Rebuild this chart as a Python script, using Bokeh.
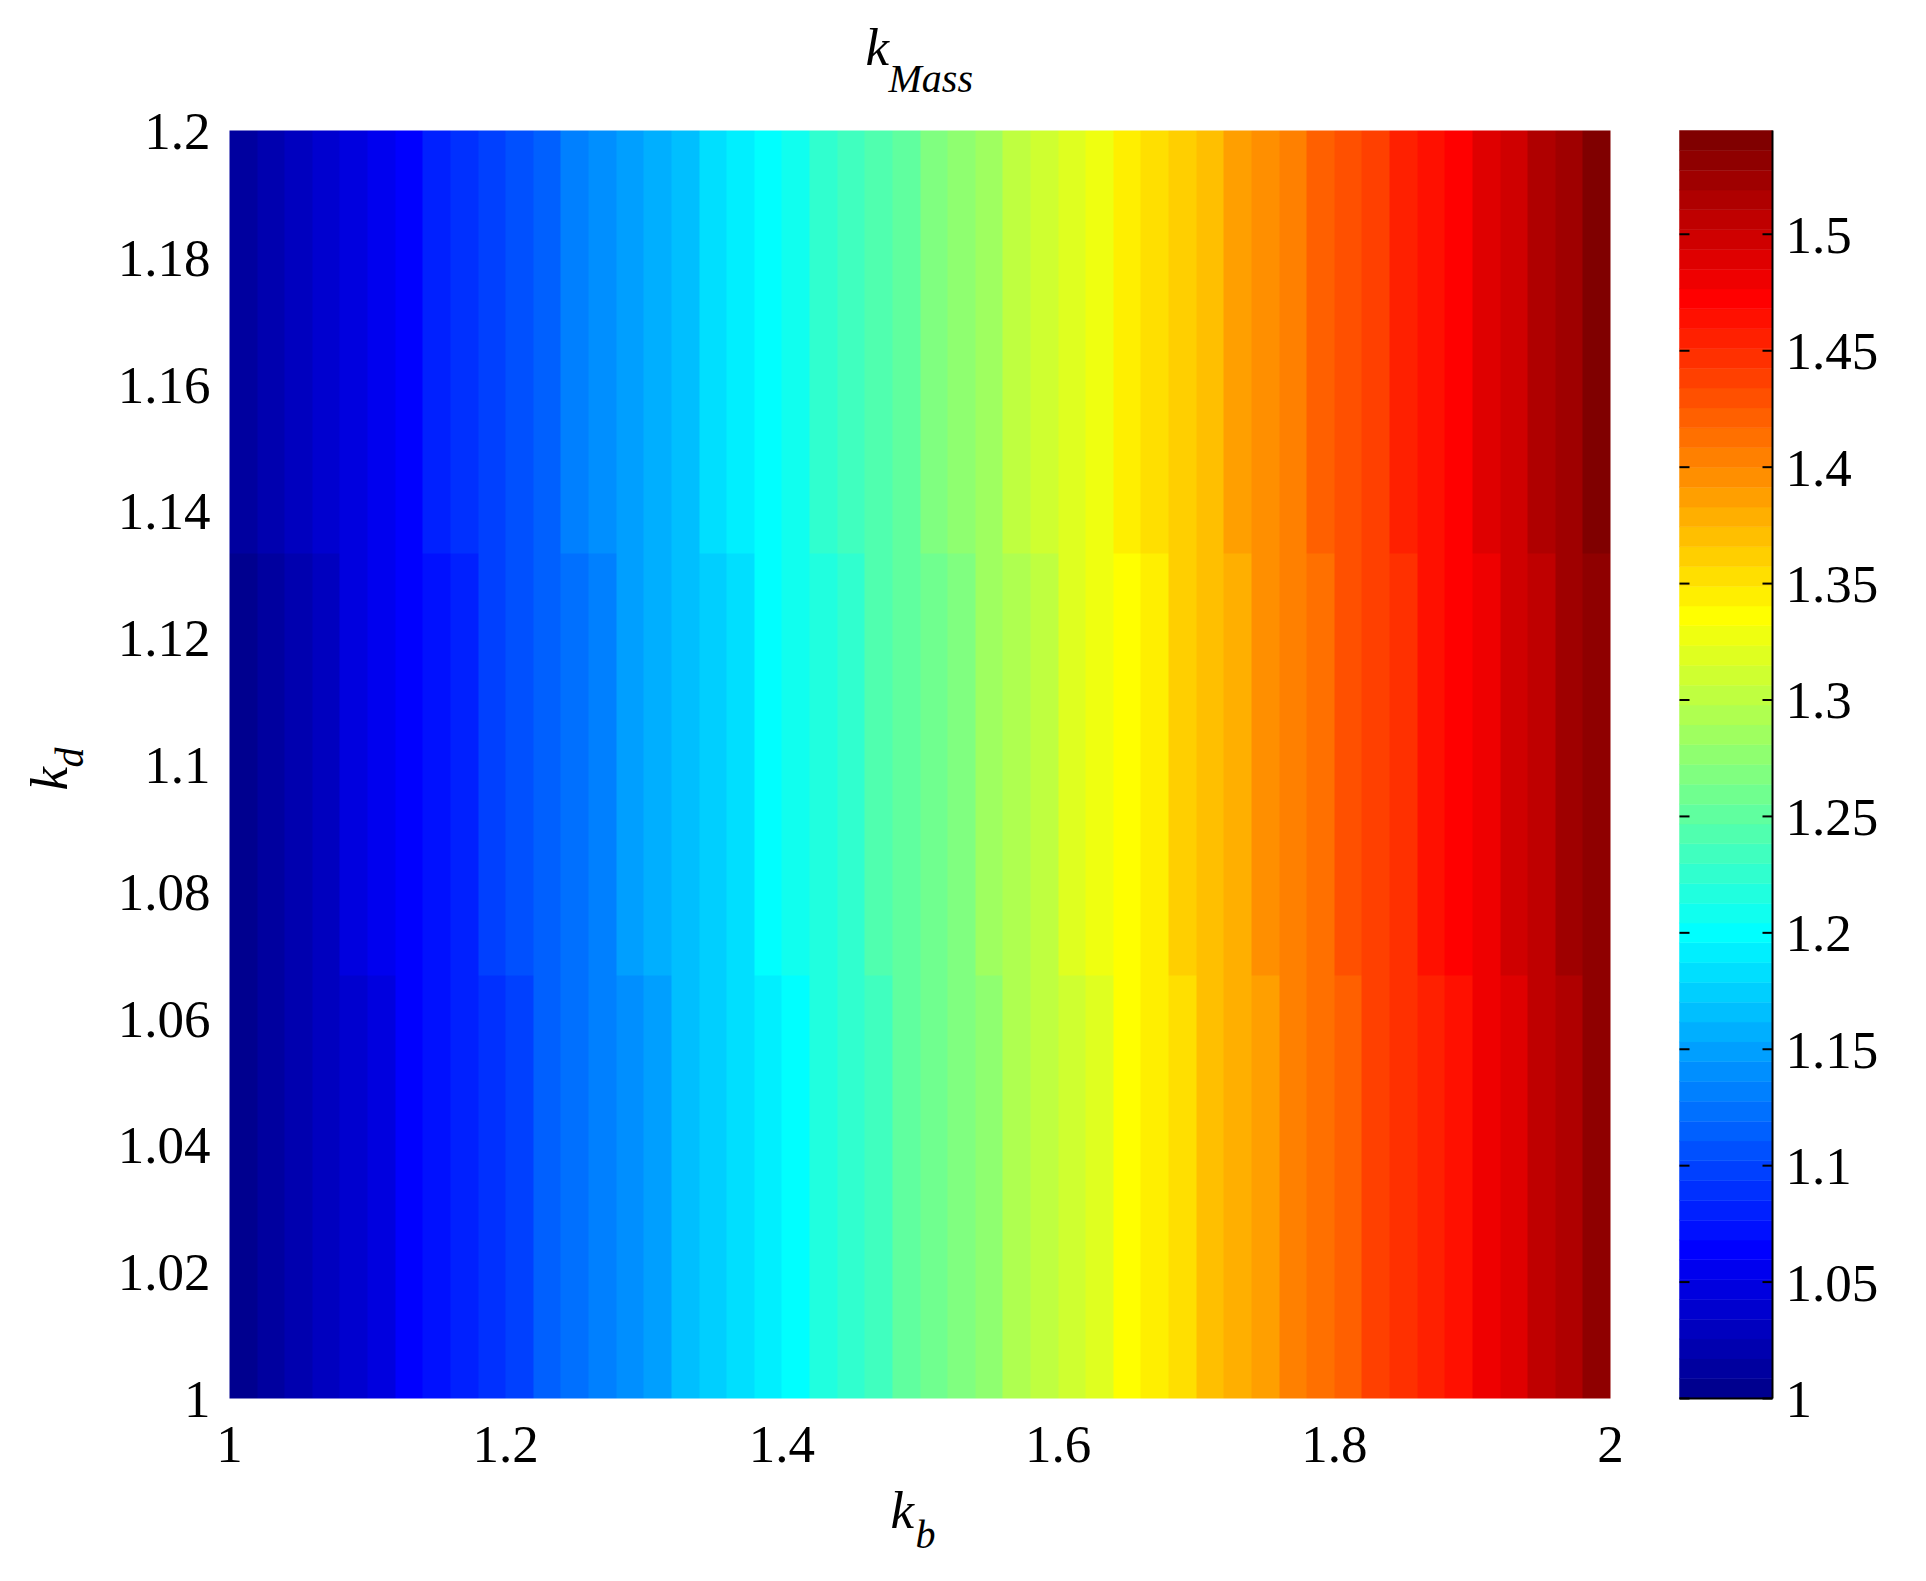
import numpy as np
from bokeh.plotting import figure
from bokeh.models import LinearColorMapper, Range1d
from bokeh.core.properties import value
from bokeh.embed import file_html
from bokeh.resources import INLINE

# ---------------- data ----------------
kb_centers = [1.01, 1.03, 1.05, 1.07, 1.09, 1.11, 1.13, 1.15, 1.17, 1.19,
              1.21, 1.23, 1.25, 1.27, 1.29, 1.31, 1.33, 1.35, 1.37, 1.39,
              1.41, 1.43, 1.45, 1.47, 1.49, 1.51, 1.53, 1.55, 1.57, 1.59,
              1.61, 1.63, 1.65, 1.67, 1.69, 1.71, 1.73, 1.75, 1.77, 1.79,
              1.81, 1.83, 1.85, 1.87, 1.89, 1.91, 1.93, 1.95, 1.97, 1.99]
kd_centers = [1.0333, 1.1, 1.1667]

kmass_kd_low = [1.001, 1.011, 1.021, 1.030, 1.040, 1.050, 1.060, 1.070, 1.080, 1.091,
                1.101, 1.111, 1.121, 1.131, 1.142, 1.152, 1.162, 1.173, 1.183, 1.194,
                1.204, 1.215, 1.225, 1.236, 1.247, 1.257, 1.268, 1.279, 1.290, 1.301,
                1.311, 1.322, 1.333, 1.344, 1.355, 1.366, 1.378, 1.389, 1.400, 1.411,
                1.423, 1.434, 1.445, 1.457, 1.468, 1.479, 1.491, 1.503, 1.516, 1.528]
kmass_kd_mid = [1.005, 1.015, 1.025, 1.034, 1.044, 1.054, 1.064, 1.074, 1.084, 1.095,
                1.105, 1.115, 1.125, 1.135, 1.146, 1.156, 1.166, 1.177, 1.187, 1.198,
                1.208, 1.219, 1.229, 1.240, 1.251, 1.261, 1.272, 1.283, 1.294, 1.305,
                1.315, 1.326, 1.337, 1.348, 1.359, 1.370, 1.382, 1.393, 1.404, 1.415,
                1.427, 1.438, 1.449, 1.461, 1.472, 1.483, 1.495, 1.507, 1.520, 1.533]
kmass_kd_high = [1.009, 1.019, 1.029, 1.038, 1.048, 1.058, 1.068, 1.078, 1.088, 1.099,
                 1.109, 1.119, 1.129, 1.139, 1.150, 1.160, 1.170, 1.181, 1.191, 1.202,
                 1.212, 1.223, 1.233, 1.244, 1.255, 1.265, 1.276, 1.287, 1.298, 1.309,
                 1.319, 1.330, 1.341, 1.352, 1.363, 1.374, 1.386, 1.397, 1.408, 1.419,
                 1.431, 1.442, 1.453, 1.465, 1.476, 1.487, 1.499, 1.511, 1.524, 1.538]

x_ticks = [1, 1.2, 1.4, 1.6, 1.8, 2]
y_ticks = [1, 1.02, 1.04, 1.06, 1.08, 1.1, 1.12, 1.14, 1.16, 1.18, 1.2]
cbar_ticks = [1, 1.05, 1.1, 1.15, 1.2, 1.25, 1.3, 1.35, 1.4, 1.45, 1.5]
cbar_low, cbar_high = 1.0, 1.5446

title_main, title_sub = "k", "Mass"
xlab_main, xlab_sub = "k", "b"
ylab_main, ylab_sub = "k", "d"


# ---------------- jet colormap (64 levels) ----------------
def jet(m=64):
    n = int(np.ceil(m / 4))
    u = np.concatenate([np.arange(1, n + 1) / n, np.ones(n - 1), np.arange(n, 0, -1) / n])
    g = int(np.ceil(n / 2)) - (1 if m % 4 == 1 else 0) + np.arange(1, len(u) + 1)
    r = g + n
    b = g - n
    J = np.zeros((m, 3))
    for idx, col in ((r, 0), (g, 1), (b, 2)):
        mask = (idx >= 1) & (idx <= m)
        J[idx[mask] - 1, col] = u[mask]
    return ["#%02x%02x%02x" % tuple(int(round(c * 255)) for c in row) for row in J]


palette = jet(64)
FONT = value("Liberation Serif")
SZ, SZ_SUB = 53, 40
FS = value(f"{SZ}px")
FS_SUB = value(f"{SZ_SUB}px")
BASE_FIX = 0.34          # baseline correction (fraction of font size)

# ---------------- layout (canvas pixels) ----------------
W, H = 1910, 1565
FL, FT, FW, FH = 229, 130, 1381, 1268          # image area
CBL, CBR = 1679, 1772                           # colour bar left / right

PXX = FW / (x_ticks[-1] - x_ticks[0])
PXY = FH / (y_ticks[-1] - y_ticks[0])
PXC = FH / (cbar_high - cbar_low)
x_lo = x_ticks[0] - FL / PXX
y_hi = y_ticks[-1] + FT / PXY
c_hi = cbar_high + FT / PXC


def x_of(px):
    return x_lo + px / PXX


def y_of(py):
    return y_hi - py / PXY


p = figure(output_backend="svg", toolbar_location=None, width=W, height=H,
           x_range=Range1d(x_lo, x_lo + W / PXX), y_range=Range1d(y_hi - H / PXY, y_hi),
           x_axis_location=None, y_axis_location=None, min_border=0,
           background_fill_color="white", border_fill_color="white")
p.extra_y_ranges = {"cbar": Range1d(c_hi - H / PXC, c_hi)}
p.outline_line_color = None
p.grid.visible = False

# ---------------- heat map ----------------
matrix = np.array([kmass_kd_low, kmass_kd_mid, kmass_kd_high])
dkb = kb_centers[1] - kb_centers[0]
mapper = LinearColorMapper(palette=palette, low=cbar_low, high=cbar_high)
p.image(image=[matrix], x=kb_centers[0] - dkb / 2, y=y_ticks[0],
        dw=kb_centers[-1] - kb_centers[0] + dkb, dh=y_ticks[-1] - y_ticks[0],
        color_mapper=mapper)

fix = BASE_FIX * SZ
fix_sub = BASE_FIX * SZ_SUB

# ---------------- tick labels ----------------
p.text(x=x_ticks, y=[y_ticks[0]] * len(x_ticks), text=[f"{t:g}" for t in x_ticks],
       text_font=FONT, text_font_size=FS, text_color="black",
       text_align="center", text_baseline="alphabetic", y_offset=64 - fix)
p.text(x=[x_ticks[0]] * len(y_ticks), y=y_ticks, text=[f"{t:g}" for t in y_ticks],
       text_font=FONT, text_font_size=FS, text_color="black",
       text_align="right", text_baseline="alphabetic", x_offset=-19, y_offset=19 - fix)

# ---------------- colour bar ----------------
n = len(palette)
step = (cbar_high - cbar_low) / n
band_bottom = [cbar_low + i * step for i in range(n)]
band_top = [cbar_low + (i + 1) * step for i in range(n)]
cx0, cx1 = x_of(CBL), x_of(CBR)
p.quad(left=cx0, right=cx1, bottom=band_bottom, top=band_top, fill_color=palette,
       line_color=palette, line_width=0.5, y_range_name="cbar")
tick_len = 10 / PXX
p.segment(x0=[cx0] * len(cbar_ticks), x1=[cx0 + tick_len] * len(cbar_ticks),
          y0=cbar_ticks, y1=cbar_ticks, line_color="black", line_width=2, y_range_name="cbar")
p.segment(x0=[cx1 - tick_len] * len(cbar_ticks), x1=[cx1] * len(cbar_ticks),
          y0=cbar_ticks, y1=cbar_ticks, line_color="black", line_width=2, y_range_name="cbar")
p.segment(x0=[cx1, cx0], x1=[cx1, cx1], y0=[cbar_low, cbar_low], y1=[cbar_high, cbar_low],
          line_color="black", line_width=2, y_range_name="cbar")
p.text(x=[cx1] * len(cbar_ticks), y=cbar_ticks, text=[f"{t:g}" for t in cbar_ticks],
       text_font=FONT, text_font_size=FS, text_color="black",
       text_align="left", text_baseline="alphabetic", x_offset=13, y_offset=19 - fix,
       y_range_name="cbar")


# ---------------- title and axis labels (italic, with subscripts) ----------------
def lab(text, px, py, size, shift, rotated=False):
    if rotated:
        px -= shift
    else:
        py -= shift
    p.text(x=[x_of(px)], y=[y_of(py)], text=[text], angle=np.pi / 2 if rotated else 0.0,
           text_font=FONT, text_font_style="italic", text_font_size=size,
           text_color="black", text_align="left", text_baseline="alphabetic")


lab(title_main, 865, 65, FS, fix)
lab(title_sub, 888, 92, FS_SUB, fix_sub)
lab(xlab_main, 890, 1528, FS, fix)
lab(xlab_sub, 915, 1548, FS_SUB, fix_sub)
lab(ylab_main, 67, 790, FS, fix, rotated=True)
lab(ylab_sub, 83, 767, FS_SUB, fix_sub, rotated=True)

open("out.html", "w").write(file_html(p, INLINE))
